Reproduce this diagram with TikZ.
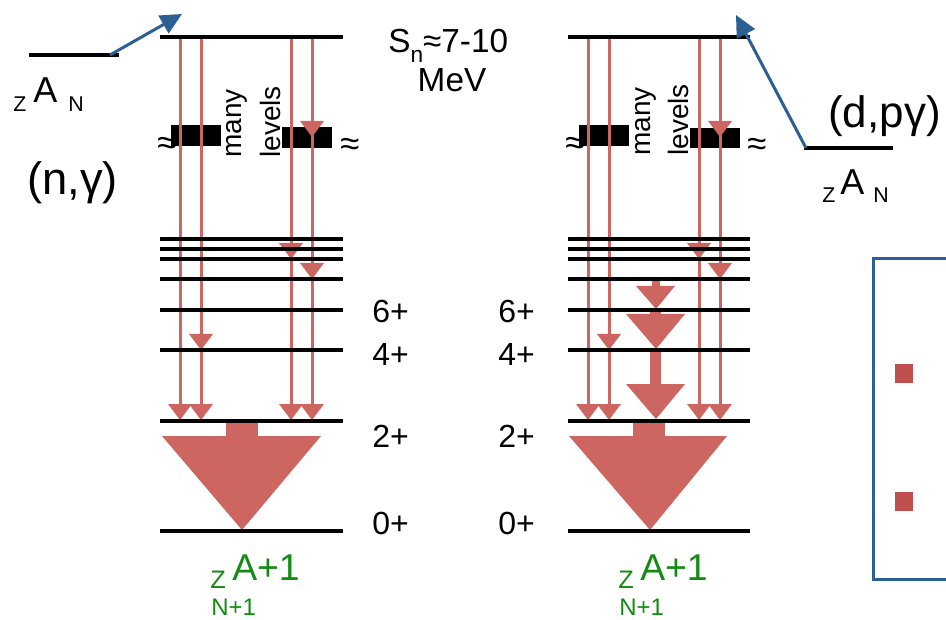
\documentclass[tikz,border=0pt]{standalone}
\usepackage{fontspec}
\setmainfont{Liberation Sans}
\usetikzlibrary{arrows.meta}
\definecolor{arrred}{RGB}{205,102,96}
\definecolor{sqred}{RGB}{192,80,77}
\definecolor{blu}{RGB}{44,95,148}
\definecolor{grn}{RGB}{20,140,20}
\newcommand\redhead[2]{\fill[arrred] ({#1-12},{#2-16}) -- ({#1+12},{#2-16}) -- (#1,#2) -- cycle;}
\newcommand\fsz[1]{\fontsize{#1}{#1}\selectfont}
\begin{document}
\begin{tikzpicture}[x=0.75pt,y=-0.75pt,
  lvl/.style={line width=2.4pt,black},
  shaft/.style={draw=arrred,line width=2.25pt},
  blk/.style={fill=black},
  txt/.style={inner sep=0,anchor=base west},
  bluearr/.style={draw=blu,line width=2.25pt,-{Triangle[length=16pt,width=15pt]}},
  gtxt/.style={inner sep=0,anchor=base west,text=grn}]
\useasboundingbox (0,0) rectangle (946,620);

% ---------------- blocks ----------------
\fill[blk] (171,125) rectangle (221,146);
\fill[blk] (282,127) rectangle (332,148);
\fill[blk] (579,125) rectangle (629,146);
\fill[blk] (690,128) rectangle (740,148);

% ---------------- red shafts ----------------
\foreach \x in {180,201,291,312,588,609,699,720}
  \draw[shaft] (\x,38) -- (\x,406);
% heads left
\redhead{180}{420}\redhead{201}{420}\redhead{291}{420}\redhead{312}{420}
\redhead{201}{350}\redhead{291}{259}\redhead{312}{279}\redhead{312}{137}
% heads right
\redhead{588}{420}\redhead{609}{420}\redhead{699}{420}\redhead{720}{420}
\redhead{609}{350}\redhead{699}{259}\redhead{720}{279}\redhead{720}{137}

% ---------------- big arrows ----------------
\fill[arrred] (226,422) rectangle (258,437);
\fill[arrred] (162,436) -- (321,436) -- (242,530) -- cycle;
\fill[arrred] (633,422) rectangle (665,437);
\fill[arrred] (569,436) -- (727,436) -- (650,530) -- cycle;
% cascade right
\fill[arrred] (652,280) rectangle (660,287);
\fill[arrred] (636,286) -- (675,286) -- (656,309) -- cycle;
\fill[arrred] (650,311) rectangle (661,315);
\fill[arrred] (626,314) -- (685,314) -- (656,349) -- cycle;
\fill[arrred] (650,352) rectangle (661,385);
\fill[arrred] (626,384) -- (685,384) -- (656,419) -- cycle;

% ---------------- levels ----------------
\draw[lvl] (160,37) -- (343,37);
\draw[lvl] (568,37) -- (750,37);
\foreach \y in {239,249,259,279,310,350,421,531}{
  \draw[lvl] (160,\y) -- (343,\y);
  \draw[lvl] (568,\y) -- (750,\y);
}

% ---------------- approx signs and many levels ----------------
\foreach \x/\y in {167/146,350/147,575/146,757/147}
  \node[inner sep=0,font=\fsz{26}] at (\x,\y) {≈};
\node[txt,rotate=90,font=\fsz{21}] at (241.5,158) {many};
\node[txt,rotate=90,font=\fsz{21}] at (280,158) {levels};
\node[txt,rotate=90,font=\fsz{21}] at (650,156) {many};
\node[txt,rotate=90,font=\fsz{21}] at (688,156) {levels};

% ---------------- texts ----------------
\node[txt,font=\fsz{25}] at (388,53) {S\raisebox{-0.28em}{\fsz{17}n}≈7-10};
\node[inner sep=0,anchor=base,font=\fsz{25}] at (452,92) {MeV};
\foreach \lab/\y in {6+/323,4+/365,2+/447,0+/534}{
  \node[txt,font=\fsz{24}] at (372,\y) {\lab};
  \node[txt,font=\fsz{24}] at (498,\y) {\lab};
}

% left nucleus
\draw[lvl] (29,55) -- (119,55);
\coordinate (la) at (110,55);
\coordinate (lt) at (182,14);
\draw[bluearr] (la) -- (lt);
\node[txt,font=\fsz{16}] at (13,112) {Z};
\node[txt,font=\fsz{27}] at (33,103) {A};
\node[txt,font=\fsz{16}] at (68,112) {N};
\node[txt,font=\fsz{34}] at (27,195) {(n,γ)};

% right nucleus
\draw[lvl] (804,148) -- (893,148);
\coordinate (ra) at (806,148);
\coordinate (rt) at (736,15);
\draw[bluearr] (ra) -- (rt);
\node[txt,font=\fsz{16}] at (822,203) {Z};
\node[txt,font=\fsz{27}] at (840,195) {A};
\node[txt,font=\fsz{16}] at (873,203) {N};
\node[txt,font=\fsz{33}] at (828,128) {(d,pγ)};

% green product labels
\node[gtxt,font=\fsz{19}] at (210,588) {Z};
\node[gtxt,font=\fsz{28}] at (232,580) {A+1};
\node[gtxt,font=\fsz{18}] at (211,615) {N+1};
\node[gtxt,font=\fsz{19}] at (618,588) {Z};
\node[gtxt,font=\fsz{28}] at (640,580) {A+1};
\node[gtxt,font=\fsz{18}] at (619,615) {N+1};

% right box
\draw[blu,line width=2.25pt] (950,259) -- (873,259) -- (873,579) -- (950,579);
\fill[sqred] (895,364) rectangle (913,383);
\fill[sqred] (895,492) rectangle (913,511);
\end{tikzpicture}
\end{document}
